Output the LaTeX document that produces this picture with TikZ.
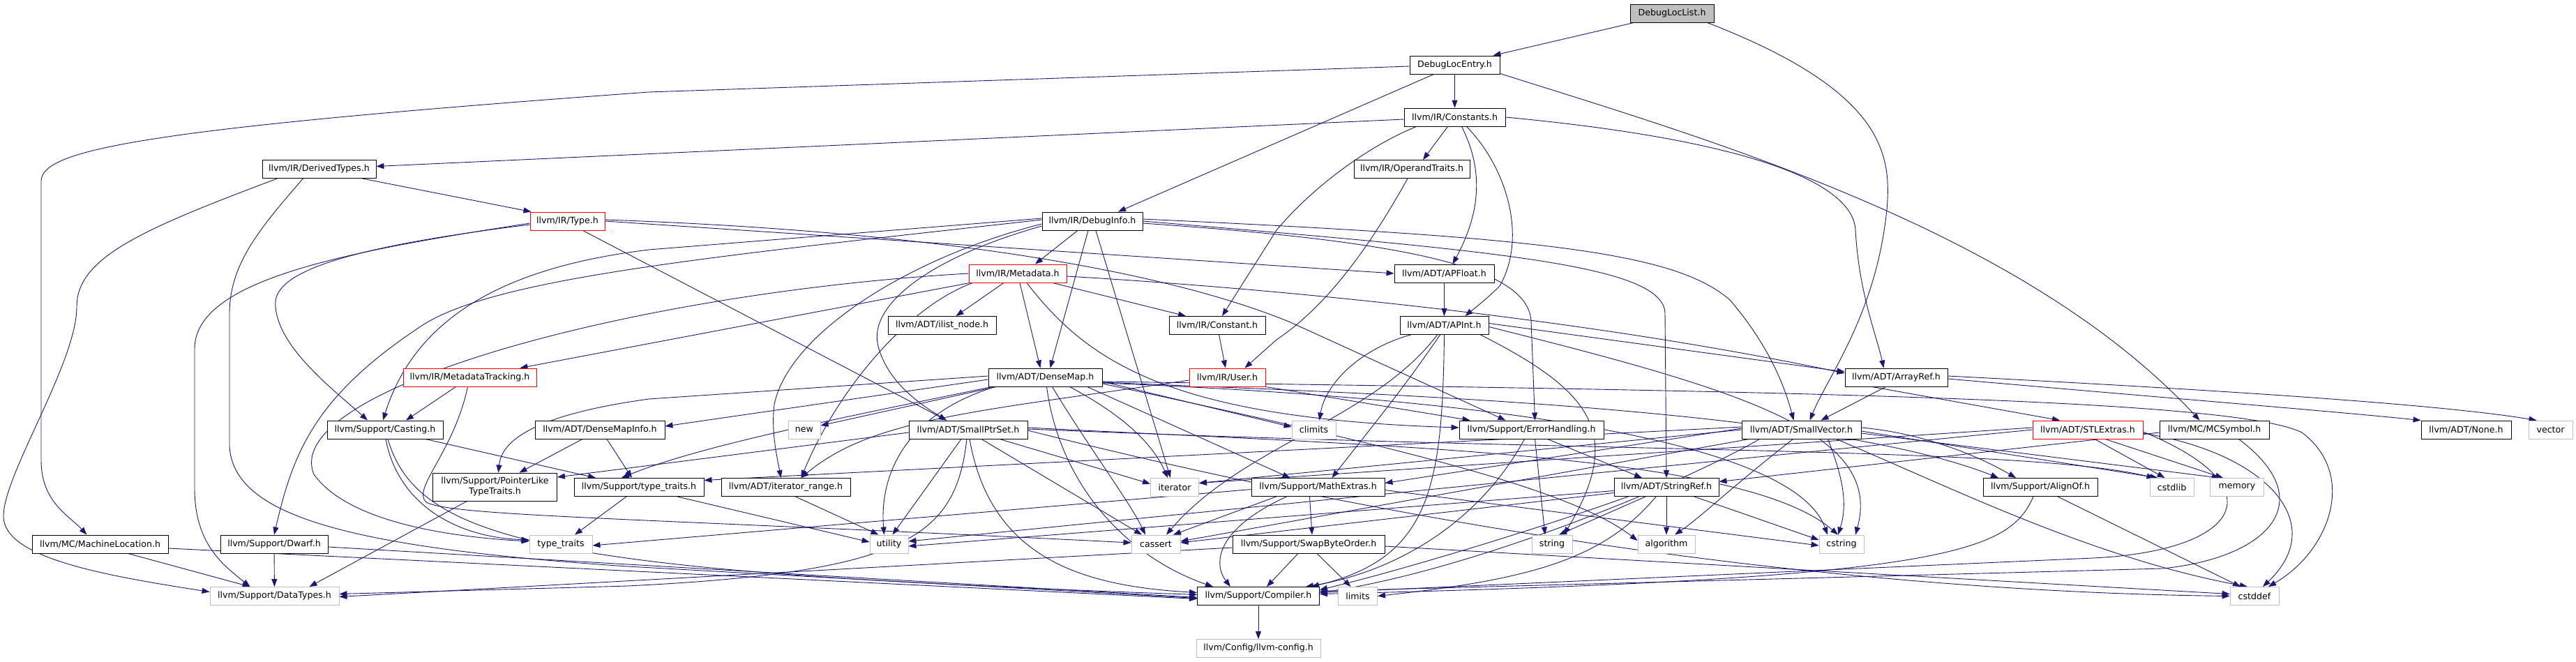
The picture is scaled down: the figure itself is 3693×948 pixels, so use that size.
\documentclass[tikz,border=0pt]{standalone}
\usepackage{fontspec}
\setmainfont{DejaVu Sans}
\usetikzlibrary{arrows.meta}
\definecolor{edgec}{HTML}{191970}
\definecolor{sysgray}{HTML}{BFBFBF}
\pgfdeclarelayer{bg}
\pgfsetlayers{bg,main}
\tikzset{
  box/.style={draw=black, line width=0.9pt, fill=white, minimum height=26pt, inner sep=0pt,
    font=\fontsize{12.6}{15}\selectfont, align=center},
  sys/.style={box, draw=sysgray, line width=0.9pt},
  trunc/.style={box, draw=red, line width=0.9pt},
  root/.style={box, fill=sysgray},
  e/.style={draw=edgec, line width=0.9pt, -{Triangle[length=11pt,width=8pt]}}
}
\begin{document}
\begin{tikzpicture}[x=1pt,y=-1pt]
\useasboundingbox (0,0) rectangle (3693,948);
% nodes
\node[root, minimum width=120pt] (dll) at (2397,19) {DebugLocList.h};
\node[box, minimum width=129pt] (dle) at (2085.5,93) {DebugLocEntry.h};
\node[box, minimum width=145pt] (cons) at (2085.5,168) {llvm/IR/Constants.h};
\node[box, minimum width=163pt] (dert) at (457.5,242.5) {llvm/IR/DerivedTypes.h};
\node[box, minimum width=166pt] (opt) at (2024,242.5) {llvm/IR/OperandTraits.h};
\node[trunc, minimum width=107pt] (type) at (813.5,317) {llvm/IR/Type.h};
\node[box, minimum width=144pt] (dinfo) at (1566,317) {llvm/IR/DebugInfo.h};
\node[trunc, minimum width=140pt] (meta) at (1459,392) {llvm/IR/Metadata.h};
\node[box, minimum width=143pt] (apf) at (2070.5,392) {llvm/ADT/APFloat.h};
\node[box, minimum width=155pt] (ilist) at (1350.5,466.5) {llvm/ADT/ilist\_node.h};
\node[box, minimum width=138pt] (constant) at (1745,466.5) {llvm/IR/Constant.h};
\node[box, minimum width=127pt] (apint) at (2070.5,466.5) {llvm/ADT/APInt.h};
\node[trunc, minimum width=191pt] (mtrack) at (673.5,541) {llvm/IR/MetadataTracking.h};
\node[box, minimum width=163pt] (dmap) at (1498.5,541) {llvm/ADT/DenseMap.h};
\node[trunc, minimum width=109pt] (user) at (1759.5,541) {llvm/IR/User.h};
\node[box, minimum width=147pt] (aref) at (2718.5,541) {llvm/ADT/ArrayRef.h};
\node[box, minimum width=166pt] (cast) at (552,616) {llvm/Support/Casting.h};
\node[box, minimum width=186pt] (dmi) at (860,616) {llvm/ADT/DenseMapInfo.h};
\node[sys, minimum width=46pt] (new) at (1153,616) {new};
\node[box, minimum width=170pt] (sps) at (1388,616) {llvm/ADT/SmallPtrSet.h};
\node[sys, minimum width=63pt] (climits) at (1883.5,616) {climits};
\node[box, minimum width=207pt] (errh) at (2195.5,616) {llvm/Support/ErrorHandling.h};
\node[box, minimum width=171pt] (svec) at (2582.5,616) {llvm/ADT/SmallVector.h};
\node[trunc, minimum width=158pt] (stl) at (2993,616) {llvm/ADT/STLExtras.h};
\node[box, minimum width=157pt] (mcs) at (3174.5,616) {llvm/MC/MCSymbol.h};
\node[box, minimum width=129pt] (none) at (3535.5,616) {llvm/ADT/None.h};
\node[sys, minimum width=63pt] (vector) at (3656.5,616) {vector};
\node[box, minimum width=178pt, minimum height=40pt] (plt) at (709.5,698) {llvm/Support/PointerLike\\TypeTraits.h};
\node[box, minimum width=186pt] (stt) at (916,698.5) {llvm/Support/type\_traits.h};
\node[box, minimum width=185pt] (itr) at (1126.5,698.5) {llvm/ADT/iterator\_range.h};
\node[sys, minimum width=69pt] (iter) at (1684,698.5) {iterator};
\node[box, minimum width=191pt] (mathx) at (1889.5,698.5) {llvm/Support/MathExtras.h};
\node[box, minimum width=150pt] (sref) at (2389,698.5) {llvm/ADT/StringRef.h};
\node[box, minimum width=164pt] (align) at (2925,698.5) {llvm/Support/AlignOf.h};
\node[sys, minimum width=63pt] (cstdlib) at (3113.5,698.5) {cstdlib};
\node[sys, minimum width=77pt] (memory) at (3207,698.5) {memory};
\node[box, minimum width=195pt] (mloc) at (143.5,780) {llvm/MC/MachineLocation.h};
\node[box, minimum width=154pt] (dwarf) at (393,780) {llvm/Support/Dwarf.h};
\node[sys, minimum width=90pt] (tt) at (804,780) {type\_traits};
\node[sys, minimum width=55pt] (util) at (1274.5,780) {utility};
\node[sys, minimum width=70pt] (cassert) at (1657,780) {cassert};
\node[box, minimum width=218pt] (swap) at (1876,780) {llvm/Support/SwapByteOrder.h};
\node[sys, minimum width=58pt] (string) at (2225,780) {string};
\node[sys, minimum width=82pt] (algo) at (2389,780) {algorithm};
\node[sys, minimum width=64pt] (cstring) at (2640,780) {cstring};
\node[sys, minimum width=185pt] (dtypes) at (393.5,854.5) {llvm/Support/DataTypes.h};
\node[box, minimum width=175pt] (comp) at (1804,854.5) {llvm/Support/Compiler.h};
\node[sys, minimum width=56pt] (limits) at (1946.5,854.5) {limits};
\node[sys, minimum width=70pt] (cstddef) at (3232,854.5) {cstddef};
\node[sys, minimum width=178pt] (cfg) at (1804,929.5) {llvm/Config/llvm-config.h};

\begin{pgfonlayer}{bg}
% DebugLocList
\draw[e] ([xshift=6pt]dll.south west) -- ([xshift=55pt]dle.north);
\draw[e] ([xshift=-10pt]dll.south east) .. controls (2700,130) and (2712,220) .. (2705,300) .. controls (2690,450) and (2620,540) .. ([xshift=12pt]svec.north);
% DebugLocEntry
\draw[e] (dle) -- (cons);
\draw[e] ([xshift=-30pt]dle.south) -- ([xshift=37pt]dinfo.north);
\draw[e] ([yshift=-2pt]dle.west) -- (930,132) .. controls (200,185) and (59,215) .. (59,260) -- (59,660) .. controls (59,720) and (100,740) .. ([xshift=-19pt]mloc.north);
\draw[e] ([yshift=1pt]dle.south east) .. controls (2450,200) and (2900,330) .. ([xshift=-21pt]mcs.north);
% Constants
\draw[e] ([yshift=-3pt]cons.west) -- ([yshift=4pt]dert.east);
\draw[e] ([xshift=-10pt]cons.south) -- ([xshift=16pt]opt.north);
\draw[e] ([xshift=10pt]cons.south) .. controls (2125,240) and (2125,300) .. ([xshift=12pt]apf.north);
\draw[e] ([xshift=17pt]cons.south) .. controls (2160,240) and (2190,340) .. (2150,410) .. controls (2130,430) and (2110,445) .. ([xshift=30pt]apint.north);
\draw[e] (cons.east) .. controls (2500,200) and (2657,260) .. (2660,330) .. controls (2665,420) and (2690,480) .. ([xshift=-18pt]aref.north);
\draw[e] ([xshift=-55pt]cons.south) .. controls (1960,210) and (1880,270) .. (1830,330) -- ([xshift=7pt]constant.north);
% DerivedTypes
\draw[e] ([xshift=62pt]dert.south) -- ([xshift=2pt]type.north west);
\draw[e] ([xshift=-23pt]dert.south) .. controls (370,330) and (329,380) .. (329,450) -- (329,640) .. controls (335,740) and (500,785) .. (900,812) -- ([yshift=-3pt]comp.west);
\draw[e] ([xshift=-60pt]dert.south) .. controls (200,330) and (110,370) .. (110,440) .. controls (110,520) and (5,680) .. (5,740) .. controls (5,800) and (150,825) .. ([yshift=6pt]dtypes.west);
% Type
\draw[e] (type.east) -- (apf.west);
\draw[e] ([xshift=22pt]type.south) -- ([xshift=-31pt]sps.north);
\draw[e] ([yshift=-5pt]type.west) .. controls (450,360) and (390,400) .. (395,440) .. controls (400,500) and (480,560) .. ([xshift=-25pt]cast.north);
\draw[e] ([yshift=-3pt]type.west) .. controls (500,360) and (279,400) .. (279,500) -- (279,700) .. controls (279,780) and (320,810) .. ([xshift=-35pt]dtypes.north);
\draw[e] ([yshift=2pt]type.east) .. controls (1300,330) and (1650,380) .. (1850,462) -- ([xshift=-37pt]errh.north);
% OperandTraits, APFloat
\draw[e] ([xshift=-6pt]opt.south) .. controls (1960,360) and (1900,440) .. (1830,487) -- ([xshift=25pt]user.north);
\draw[e] (apf) -- (apint);
% DebugInfo
\draw[e] ([xshift=-21pt]dinfo.south) -- ([xshift=25pt]meta.north);
\draw[e] ([xshift=-6pt]dinfo.south) -- ([xshift=7pt]dmap.north);
\draw[e] ([xshift=5pt]dinfo.south) -- ([xshift=-6pt]iter.north);
\draw[e] ([yshift=4pt]dinfo.west) -- (930,358) .. controls (750,380) and (600,440) .. ([xshift=-3pt]cast.north);
\draw[e] ([yshift=2pt]dinfo.west) .. controls (1000,370) and (700,400) .. (600,470) .. controls (450,570) and (420,650) .. (dwarf.north);
\draw[e] ([yshift=-4pt]dinfo.west) .. controls (1300,370) and (1130,480) .. (1110,580) .. controls (1105,620) and (1115,660) .. ([xshift=-7pt]itr.north);
\draw[e] ([yshift=-7pt]dinfo.west) .. controls (1330,370) and (1240,440) .. (1260,500) .. controls (1275,550) and (1320,580) .. ([xshift=-31pt]sps.north);
\draw[e] ([yshift=3pt]dinfo.east) .. controls (2200,340) and (2400,360) .. (2480,430) .. controls (2540,500) and (2560,560) .. ([xshift=-11pt]svec.north);
\draw[e] (dinfo.east) .. controls (2150,360) and (2387,380) .. (2387,450) -- (sref.north);
\draw[e] ([yshift=-3pt]dinfo.east) .. controls (2000,345) and (2190,380) .. (2195,460) -- ([xshift=5pt]errh.north);
% Metadata
\draw[e] ([xshift=3pt]meta.south) -- ([xshift=-7pt]dmap.north);
\draw[e] ([xshift=-20pt]meta.south) -- ([xshift=20pt]ilist.north);
\draw[e] ([xshift=50pt]meta.south) -- ([xshift=-45pt]constant.north);
\draw[e] ([xshift=2pt]meta.south west) -- ([xshift=-24pt]mtrack.north east);
\draw[e] ([xshift=6pt]meta.south west) .. controls (1300,440) and (1200,560) .. ([xshift=22pt]itr.north);
\draw[e] ([xshift=13pt]meta.south) .. controls (1560,520) and (1680,600) .. ([yshift=3pt]errh.west);
\draw[e] ([yshift=-4pt]meta.east) .. controls (1800,412) and (2250,452) .. ([yshift=6pt]aref.west);
\draw[e] (meta.west) .. controls (900,420) and (400,560) .. (450,680) .. controls (500,750) and (650,770) .. ([yshift=4pt]tt.west);
% Constant, User
\draw[e] (constant) -- (user);
\draw[e] ([yshift=-4pt]user.west) .. controls (1400,590) and (1250,600) .. ([xshift=22pt]itr.north);
\draw[e] (user.south east) -- ([xshift=-88pt]errh.north);
% APInt
\draw[e] ([yshift=3pt]apint.east) -- ([yshift=8pt]aref.west);
\draw[e] (apint.south) .. controls (2068,700) and (2050,800) .. ([xshift=-12pt]comp.north east);
\draw[e] ([xshift=-6pt]apint.south) .. controls (2010,560) and (1960,620) .. ([xshift=20pt]mathx.north);
\draw[e] ([xshift=-48pt]apint.south) .. controls (1950,500) and (1900,550) .. ([xshift=8pt]climits.north);
\draw[e] ([xshift=-10pt]apint.south) .. controls (1970,600) and (1780,640) .. ([xshift=15pt]cassert.north);
\draw[e] ([xshift=52pt]apint.south) .. controls (2280,560) and (2330,620) .. ([xshift=17pt]string.north);
\draw[e] ([yshift=-2pt]apint.east) .. controls (2500,560) and (2700,620) .. ([xshift=20pt]cstring.north);
% DenseMap
\draw[e] ([yshift=2pt]dmap.west) -- (930,572) .. controls (800,590) and (720,620) .. ([xshift=5pt]plt.north);
\draw[e] ([yshift=-3pt]dmap.west) -- ([yshift=5pt]dmi.east);
\draw[e] ([xshift=-76pt]dmap.south) .. controls (1200,600) and (1000,640) .. ([xshift=-25pt]stt.north);
\draw[e] ([xshift=-70pt]dmap.south) -- ([yshift=6pt]new.east);
\draw[e] ([xshift=-72pt]dmap.south) .. controls (1280,600) and (1262,700) .. ([xshift=-7pt]util.north);
\draw[e] ([xshift=10pt]dmap.south) .. controls (1560,640) and (1620,720) .. ([xshift=-15pt]cassert.north);
\draw[e] ([xshift=2pt]dmap.south) .. controls (1520,700) and (1620,800) .. ([xshift=-65pt]comp.north);
\draw[e] ([xshift=35pt]dmap.south) .. controls (1600,590) and (1650,630) .. ([xshift=-10pt]iter.north);
\draw[e] ([yshift=-6pt]dmap.east) -- ([yshift=4pt]climits.west);
\draw[e] ([xshift=60pt]dmap.south) -- ([xshift=-40pt]mathx.north);
\draw[e] ([yshift=-7pt]dmap.east) .. controls (1900,562) and (2600,580) .. ([xshift=-60pt]align.north);
\draw[e] ([yshift=-8pt]dmap.east) .. controls (1900,562) and (2560,600) .. ([xshift=-20pt]cstring.north);
\draw[e] ([yshift=-9pt]dmap.east) .. controls (2000,640) and (2250,700) .. ([yshift=5pt]algo.west);
\draw[e] ([yshift=-6pt]dmap.east) .. controls (2500,560) and (3200,570) .. (3300,620) .. controls (3380,680) and (3340,790) .. ([xshift=20pt]cstddef.north);
% SmallPtrSet
\draw[e] ([yshift=-4pt]sps.west) -- ([yshift=14pt]plt.east);
\draw[e] ([xshift=-10pt]sps.south) -- ([xshift=5pt]util.north);
\draw[e] ([xshift=-2pt]sps.south) .. controls (1370,770) and (1300,820) .. (900,840) -- ([yshift=3pt]dtypes.east);
\draw[e] ([xshift=2pt]sps.south) .. controls (1420,800) and (1550,840) .. ([yshift=5pt]comp.west);
\draw[e] ([xshift=19pt]sps.south) -- ([xshift=-20pt]cassert.north);
\draw[e] ([xshift=45pt]sps.south) -- ([yshift=5pt]iter.west);
\draw[e] ([yshift=3pt]sps.east) .. controls (2000,640) and (2500,650) .. ([xshift=-5pt]cstring.north);
\draw[e] ([yshift=1pt]sps.east) .. controls (2300,650) and (2900,640) .. ([xshift=-25pt]cstdlib.north);
\draw[e] ([yshift=-1pt]sps.east) .. controls (2200,800) and (2800,850) .. (cstddef.west);
% SmallVector
\draw[e] ([yshift=3pt]svec.east) .. controls (2750,620) and (2830,650) .. ([xshift=-35pt]align.north);
\draw[e] ([xshift=-60pt]svec.south) .. controls (2400,700) and (2100,820) .. ([yshift=5pt]comp.east);
\draw[e] ([yshift=2pt]svec.west) -- ([yshift=6pt]mathx.east);
\draw[e] ([yshift=4pt]svec.west) -- ([yshift=10pt]stt.east);
\draw[e] (svec.west) -- ([yshift=6pt]iter.east);
\draw[e] ([xshift=-75pt]svec.south) -- ([yshift=4pt]cassert.east);
\draw[e] ([xshift=-12pt]svec.south) .. controls (2480,700) and (2440,740) .. ([xshift=12pt]algo.north);
\draw[e] ([xshift=38pt]svec.south) .. controls (2640,680) and (2650,720) .. ([xshift=-5pt]cstring.north);
\draw[e] ([yshift=-2pt]svec.east) -- ([xshift=-20pt]cstdlib.north);
\draw[e] ([yshift=-5pt]svec.east) -- ([xshift=-25pt]memory.north);
\draw[e] ([xshift=50pt]svec.south) .. controls (2800,700) and (3000,800) .. ([xshift=-10pt]cstddef.north);
% STLExtras
\draw[e] ([xshift=10pt]stl.south) -- ([xshift=-10pt]cstdlib.north);
\draw[e] ([xshift=25pt]stl.south) -- ([xshift=-20pt]memory.north);
\draw[e] ([yshift=3pt]stl.west) -- ([yshift=6pt]iter.east);
\draw[e] (stl.west) -- ([yshift=4pt]util.east);
\draw[e] ([yshift=-3pt]stl.east) .. controls (3270,700) and (3210,790) .. (3000,800) -- ([yshift=5pt]comp.east);
\draw[e] ([yshift=-5pt]stl.east) .. controls (3250,650) and (3340,750) .. ([xshift=12pt]cstddef.north);
% MCSymbol
\draw[e] ([yshift=-4pt]mcs.west) -- ([yshift=8pt]sref.east);
\draw[e] ([xshift=35pt]mcs.south) .. controls (3330,720) and (3250,800) .. (3100,815) -- ([yshift=7pt]comp.east);
% ArrayRef
\draw[e] ([yshift=-2pt]aref.east) .. controls (3100,570) and (3350,590) .. (none.north west);
\draw[e] ([yshift=2pt]aref.east) .. controls (3200,560) and (3500,580) .. ([xshift=-20pt]vector.north);
\draw[e] ([xshift=-15pt]aref.south) -- ([xshift=28pt]svec.north);
\draw[e] ([xshift=-35pt]aref.south) -- ([xshift=-40pt]stl.north);
% StringRef
\draw[e] (sref) -- (algo);
\draw[e] ([xshift=-30pt]sref.south) -- ([xshift=10pt]string.north);
\draw[e] ([xshift=40pt]sref.south) -- ([yshift=6pt]cstring.west);
\draw[e] ([xshift=-15pt]sref.south) .. controls (2300,800) and (2200,830) .. (limits.east);
\draw[e] ([yshift=-5pt]sref.west) -- ([yshift=-3pt]util.east);
\draw[e] ([yshift=-8pt]sref.west) -- ([yshift=2pt]cassert.east);
\draw[e] ([xshift=-55pt]sref.south) .. controls (2200,760) and (2000,820) .. ([yshift=9pt]comp.east);
% ErrorHandling
\draw[e] ([xshift=23pt]errh.south) -- ([xshift=-35pt]sref.north);
\draw[e] ([xshift=5pt]errh.south) -- ([xshift=-10pt]string.north);
\draw[e] ([xshift=-10pt]errh.south) .. controls (2120,750) and (2000,820) .. ([xshift=-20pt]comp.north east);
% MathExtras
\draw[e] ([xshift=-12pt]mathx.south) -- ([xshift=5pt]swap.north);
\draw[e] ([xshift=-45pt]mathx.south) .. controls (1740,760) and (1740,810) .. ([xshift=-40pt]comp.north);
\draw[e] ([xshift=-60pt]mathx.south) -- ([xshift=25pt]cassert.north);
\draw[e] ([yshift=-4pt]mathx.east) -- ([yshift=-2pt]cstring.west);
\draw[e] ([yshift=-3pt]mathx.west) -- ([yshift=-2pt]tt.east);
% SwapByteOrder
\draw[e] ([xshift=-15pt]swap.south) -- ([xshift=12pt]comp.north);
\draw[e] ([xshift=12pt]swap.south) -- ([xshift=-10pt]limits.north);
\draw[e] ([yshift=-5pt]swap.west) -- ([yshift=-1pt]dtypes.east);
\draw[e] ([yshift=-3pt]swap.east) -- ([yshift=3pt]cstddef.west);
% AlignOf
\draw[e] ([xshift=-10pt]align.south) .. controls (2880,790) and (2800,830) .. ([yshift=3pt]comp.east);
\draw[e] ([xshift=25pt]align.south) -- ([xshift=-20pt]cstddef.north);
% Casting, MetadataTracking
\draw[e] ([xshift=58pt]cast.south) -- ([xshift=-62pt]stt.north);
\draw[e] ([xshift=1pt]cast.south) .. controls (570,720) and (650,770) .. ([yshift=6pt]tt.west);
\draw[e] ([xshift=4pt]cast.south) .. controls (600,780) and (800,820) .. ([yshift=2pt]comp.west);
\draw[e] ([xshift=-20pt]mtrack.south) -- ([xshift=30pt]cast.north);
\draw[e] ([xshift=-3pt]mtrack.south) .. controls (650,650) and (590,700) .. (611,720) .. controls (650,740) and (900,742) .. ([yshift=2pt]cassert.west);
% DenseMapInfo and others
\draw[e] ([xshift=-25pt]dmi.south) -- ([xshift=35pt]plt.north);
\draw[e] ([xshift=10pt]dmi.south) -- ([xshift=-10pt]stt.north);
\draw[e] ([xshift=-40pt]plt.south) -- ([xshift=50pt]dtypes.north);
\draw[e] ([xshift=-18pt]stt.south) -- ([xshift=20pt]tt.north);
\draw[e] ([xshift=55pt]stt.south) -- ([yshift=3pt]util.west);
\draw[e] ([xshift=14pt]itr.south) -- ([xshift=-15pt]util.north);
\draw[e] ([xshift=40pt]mloc.south) -- ([xshift=-35pt]dtypes.north);
\draw[e] ([yshift=-6pt]mloc.east) -- ([yshift=-4pt]comp.west);
\draw[e] (dwarf) -- (dtypes);
\draw[e] ([yshift=-4pt]dwarf.east) -- ([yshift=-2pt]comp.west);
\draw[e] (comp) -- (cfg);
\end{pgfonlayer}
\end{tikzpicture}
\end{document}
